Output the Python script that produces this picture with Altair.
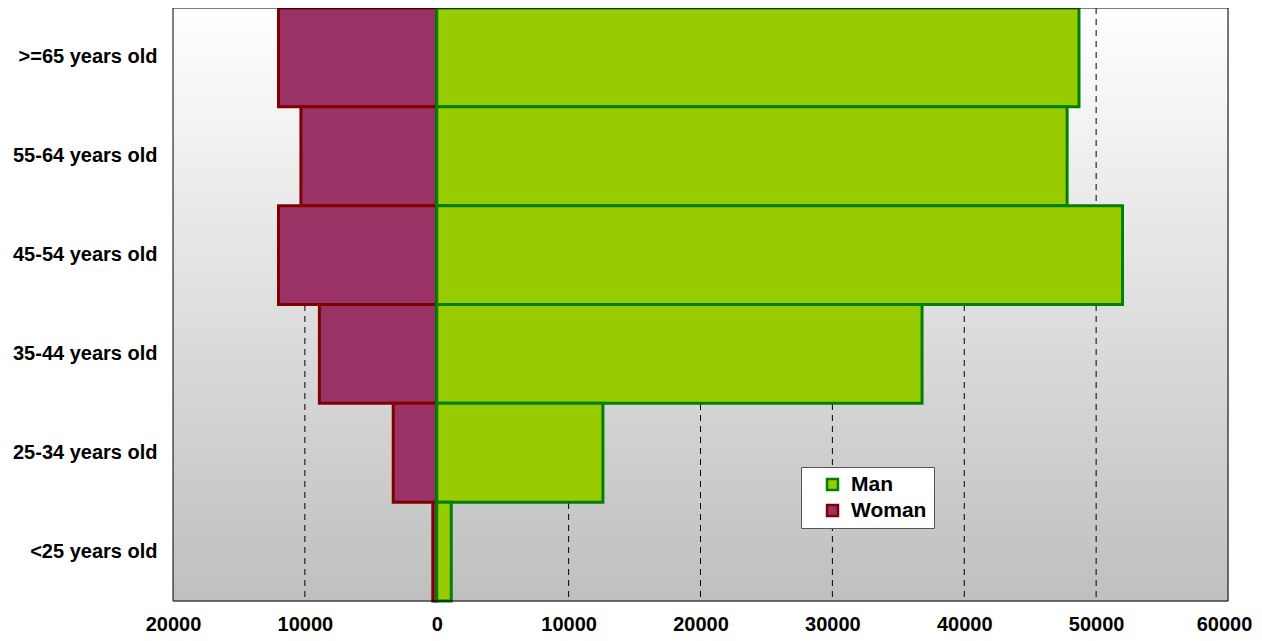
import altair as alt
import pandas as pd

ages = [">=65 years old", "55-64 years old", "45-54 years old",
        "35-44 years old", "25-34 years old", "<25 years old"]
man = [48700, 47800, 52000, 36800, 12600, 1100]
woman = [12000, 10300, 12000, 8900, 3300, 300]
genders = ["Man", "Woman"]
x_ticks = [-20000, -10000, 0, 10000, 20000, 30000, 40000, 50000, 60000]
grid_lines = [-10000, 10000, 20000, 30000, 40000, 50000]

rows = []
for a, w in zip(ages, woman):
    rows.append({"age": a, "gender": "Woman", "value": -w, "order": 0})
for a, m in zip(ages, man):
    rows.append({"age": a, "gender": "Man", "value": m, "order": 1})
df = pd.DataFrame(rows)

W, H = 1055, 593
FONT = "Liberation Sans"
FS = 20

xscale = alt.Scale(domain=[-20000, 60000], nice=False, zero=False)

bg = alt.Chart(pd.DataFrame({"d": [0]})).mark_rect(
    color=alt.Gradient(
        gradient="linear",
        stops=[alt.GradientStop(color="#ffffff", offset=0),
               alt.GradientStop(color="#bfbfbf", offset=1)],
        x1=0, x2=0, y1=0, y2=1,
    )
).encode(x=alt.value(0), x2=alt.value(W), y=alt.value(0), y2=alt.value(H))

grid = alt.Chart(pd.DataFrame({"g": grid_lines})).mark_rule(
    color="#000", strokeDash=[6, 5], strokeWidth=1
).encode(x=alt.X("g:Q", scale=xscale))

legend_kw = dict(title=None, orient="none", legendX=628, legendY=459,
                 labelFont=FONT, labelFontWeight="bold", labelFontSize=21,
                 labelColor="#000", symbolType="square", symbolSize=120,
                 symbolStrokeWidth=2.5, symbolOffset=14, labelOffset=8,
                 fillColor="#ffffff", strokeColor="#555555",
                 padding=7, rowPadding=4, labelLimit=200)

bars = alt.Chart(df).mark_bar(strokeWidth=3, opacity=1).encode(
    y=alt.Y("age:N", sort=ages, title=None,
            scale=alt.Scale(paddingInner=0, paddingOuter=0),
            axis=alt.Axis(labelFont=FONT, labelFontWeight="bold", labelFontSize=FS,
                          labelColor="#000", labelPadding=16, ticks=False,
                          domain=False, grid=False)),
    x=alt.X("value:Q", stack=None, title=None, scale=xscale,
            axis=alt.Axis(values=x_ticks, labelExpr="format(abs(datum.value), 'd')",
                          labelFont=FONT, labelFontWeight="bold", labelFontSize=FS,
                          labelColor="#000", labelPadding=29,
                          labelOffset={"condition": {"test": "datum.value == 60000", "value": -4},
                                       "value": 0},
                          labelBaseline="alphabetic", ticks=False,
                          domain=False, grid=False, labelFlush=False)),
    fill=alt.Fill("gender:N", scale=alt.Scale(domain=genders, range=["#99cc00", "#993366"]),
                  legend=alt.Legend(**legend_kw)),
    stroke=alt.Stroke("gender:N", scale=alt.Scale(domain=genders, range=["#008000", "#800000"]),
                      legend=alt.Legend(**legend_kw)),
    order=alt.Order("order:Q"),
)

border = alt.Chart(pd.DataFrame({"d": [0]})).mark_rect(
    fillOpacity=0, stroke="#000", strokeWidth=1
).encode(x=alt.value(0), x2=alt.value(W), y=alt.value(0), y2=alt.value(H))

chart = alt.layer(bg, grid, bars, border).properties(
    width=W, height=H,
    autosize=alt.AutoSizeParams(type="none"),
    padding={"left": 165, "top": 0, "right": 26, "bottom": 32},
).configure_view(strokeWidth=0).configure(background="#ffffff")

chart.save("out.html", embed_options={"renderer": "svg", "actions": False})
